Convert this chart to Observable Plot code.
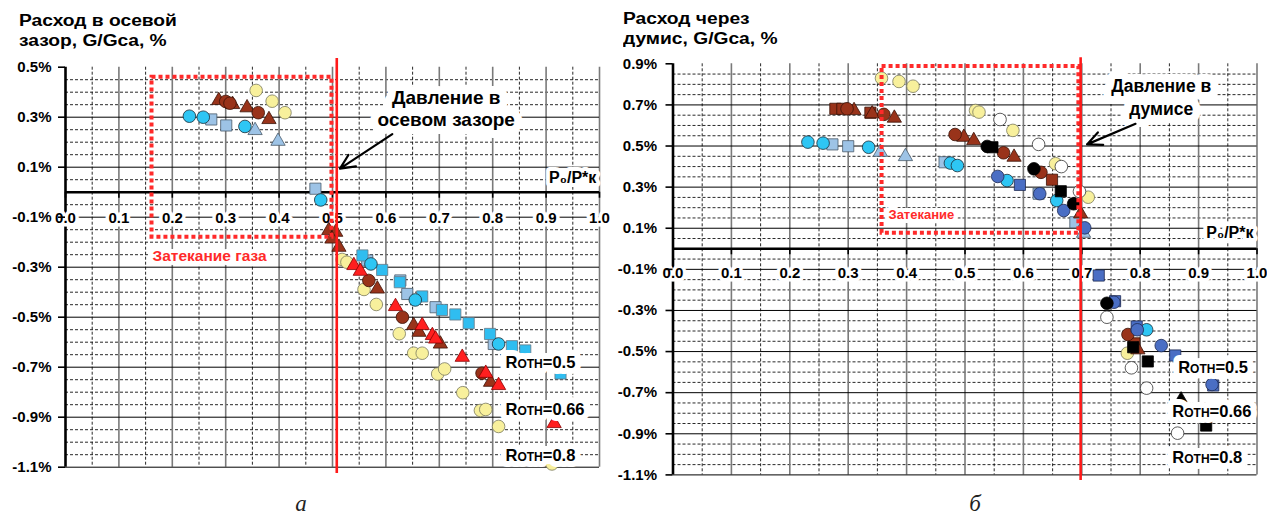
<!DOCTYPE html>
<html><head><meta charset="utf-8">
<script src="https://cdn.jsdelivr.net/npm/d3@7"></script>
<script src="https://cdn.jsdelivr.net/npm/@observablehq/plot@0.6"></script>
<style>
body{margin:0;background:#fff;}
#wrap{position:relative;width:1267px;height:517px;overflow:hidden;font-family:"Liberation Sans",Arial,sans-serif;background:#fff;}
.panel{position:absolute;top:0;}
.title{position:absolute;font-weight:bold;font-size:16px;line-height:20px;color:#000;white-space:nowrap;transform:scaleX(1.2);transform-origin:0 0;}
.cap{position:absolute;font-family:"Liberation Serif","DejaVu Serif",serif;font-style:italic;font-size:23px;line-height:24px;width:30px;text-align:center;color:#222;}
</style></head>
<body>
<div id="wrap">
  <div class="title" style="left:19px;top:11px;">Расход в осевой<br>зазор, G/Gca, %</div>
  <div class="title" style="left:623px;top:9px;">Расход через<br>думис, G/Gca, %</div>
  <div class="cap" style="left:286px;top:492px;">а</div>
  <div class="cap" style="left:960px;top:492px;">б</div>
  <div id="pa" class="panel" style="left:0px;width:640px;"></div>
  <div id="pb" class="panel" style="left:590px;width:677px;"></div>
</div>
<script>
// ---------- ticks ----------
const xTicks = [0.0,0.1,0.2,0.3,0.4,0.5,0.6,0.7,0.8,0.9,1.0];
const xMinor = [0.05,0.15,0.25,0.35,0.45,0.55,0.65,0.75,0.85,0.95];
const aYTicks = [0.5,0.3,0.1,-0.1,-0.3,-0.5,-0.7,-0.9,-1.1];
const bYTicks = [0.9,0.7,0.5,0.3,0.1,-0.1,-0.3,-0.5,-0.7,-0.9,-1.1];
const rothLabels = ["Rотн=0.5","Rотн=0.66","Rотн=0.8"];

// ---------- panel а data: [P0/P*к, G/Gca %] ----------
const aYellowCircles = [[0.357,0.407],[0.387,0.364],[0.411,0.318],[0.518,-0.269],[0.527,-0.28],[0.559,-0.389],[0.582,-0.449],[0.625,-0.566],[0.652,-0.644],[0.668,-0.644],[0.697,-0.727],[0.710,-0.707],[0.744,-0.802],[0.777,-0.873],[0.787,-0.869],[0.811,-0.937],[0.911,-1.087]];
const aLbSquares = [[0.273,0.291],[0.301,0.267],[0.468,0.014],[0.565,-0.273],[0.627,-0.353],[0.640,-0.407],[0.693,-0.46],[0.802,-0.607]];
const aCySquares = [[0.556,-0.253],[0.593,-0.311],[0.626,-0.36],[0.668,-0.417],[0.705,-0.471],[0.730,-0.489],[0.755,-0.524],[0.795,-0.567],[0.836,-0.616],[0.861,-0.633],[0.927,-0.725]];
const aCyanCircles = [[0.232,0.304],[0.258,0.30],[0.336,0.263],[0.478,-0.031],[0.572,-0.287],[0.655,-0.431],[0.811,-0.607]];
const aLbTriangles = [[0.355,0.247],[0.398,0.204]];
const aBrTriangles = [[0.287,0.367],[0.313,0.351],[0.340,0.338],[0.381,0.291],[0.493,-0.153],[0.506,-0.16],[0.499,-0.187],[0.512,-0.22],[0.584,-0.387],[0.652,-0.533],[0.662,-0.56],[0.702,-0.607],[0.796,-0.76]];
const aBrCircles = [[0.300,0.363],[0.308,0.356],[0.361,0.318],[0.568,-0.353],[0.631,-0.50],[0.780,-0.724]];
const aRedTriangles = [[0.540,-0.293],[0.552,-0.316],[0.618,-0.457],[0.668,-0.533],[0.687,-0.573],[0.693,-0.587],[0.743,-0.66],[0.787,-0.724],[0.811,-0.773],[0.915,-0.925]];

// ---------- panel б data ----------
const bYellowCircles = [[0.357,0.83],[0.387,0.814],[0.411,0.791],[0.518,0.673],[0.524,0.665],[0.582,0.576],[0.655,0.414],[0.711,0.251],[0.778,-0.508]];
const bWhiteCircles = [[0.560,0.629],[0.626,0.508],[0.665,0.40],[0.696,0.279],[0.743,-0.333],[0.785,-0.579],[0.811,-0.678],[0.864,-0.897]];
const bLbSquares = [[0.273,0.508],[0.300,0.499],[0.465,0.421],[0.626,0.268],[0.689,0.129]];
const bCyanCircles = [[0.231,0.519],[0.257,0.514],[0.335,0.494],[0.475,0.417],[0.487,0.405],[0.572,0.332],[0.657,0.235],[0.811,-0.394]];
const bLbTriangles = [[0.355,0.47],[0.398,0.449],[0.703,0.076]];
const bBrSquares = [[0.278,0.681],[0.290,0.681],[0.338,0.662],[0.649,0.336],[0.790,-0.46]];
const bBrTriangles = [[0.310,0.673],[0.341,0.657],[0.379,0.636],[0.498,0.543],[0.515,0.527],[0.584,0.446],[0.698,0.17],[0.796,-0.491]];
const bBrCircles = [[0.298,0.681],[0.361,0.654],[0.483,0.556],[0.566,0.467],[0.630,0.372],[0.779,-0.417]];
const bDbSquares = [[0.594,0.311],[0.729,-0.13],[0.757,-0.255],[0.794,-0.378],[0.860,-0.519],[0.925,-0.665]];
const bDbCircles = [[0.556,0.352],[0.628,0.268],[0.669,0.186],[0.705,0.102],[0.755,-0.26],[0.795,-0.394],[0.836,-0.471],[0.923,-0.66]];
const bBlackSquares = [[0.547,0.494],[0.664,0.28],[0.788,-0.479],[0.813,-0.548],[0.913,-0.86]];
const bBlackCircles = [[0.538,0.498],[0.618,0.389],[0.686,0.219],[0.743,-0.265]];
const bBlackTriangles = [[0.870,-0.735]];

// ---------- styles ----------
const ST = {
  yellowCircle:{symbol:"circle",r:6.3,fill:"#f8f09c",stroke:"#7a7a60"},
  whiteCircle:{symbol:"circle",r:6.3,fill:"#ffffff",stroke:"#333"},
  lbSquare:{symbol:"square",r:6.3,fill:"#9dc3e6",stroke:"#4a5a6a"},
  cySquare:{symbol:"square",r:6.3,fill:"#2fbdf0",stroke:"#6a7a86"},
  cyanCircle:{symbol:"circle",r:6.3,fill:"#2ec6f4",stroke:"#1c2c36"},
  lbTriangle:{symbol:"triangle",r:5.3,fill:"#9dc3e6",stroke:"#4a5a6a"},
  brTriangle:{symbol:"triangle",r:5.3,fill:"#99331a",stroke:"#3a1206"},
  brCircle:{symbol:"circle",r:6.3,fill:"#99331a",stroke:"#3a1206"},
  brSquare:{symbol:"square",r:6.3,fill:"#99331a",stroke:"#3a1206"},
  redTriangle:{symbol:"triangle",r:5.3,fill:"#ff1f1f",stroke:"#8a0000"},
  dbSquare:{symbol:"square",r:6.3,fill:"#4a6ec4",stroke:"#1e2a50"},
  dbCircle:{symbol:"circle",r:6.3,fill:"#4a6ec4",stroke:"#1e2a50"},
  blackSquare:{symbol:"square",r:6.3,fill:"#000",stroke:"#000"},
  blackCircle:{symbol:"circle",r:6.3,fill:"#000",stroke:"#000"},
  blackTriangle:{symbol:"triangle",r:5.3,fill:"#000",stroke:"#000"}
};

const FONT = '"Liberation Sans", Arial, sans-serif';
const halo = (w) => ({stroke:"#fff", strokeWidth:w, paintOrder:"stroke", strokeLinejoin:"round"});

function drawPanel(cfg) {
  const H = 517;
  const plotH = H - cfg.mt - cfg.mb;
  const pxPerUnit = plotH / (cfg.yDomain[1] - cfg.yDomain[0]);
  const tickLen = 6 / pxPerUnit;
  const lo = Math.round(cfg.yDomain[0]*20), hi = Math.round(cfg.yDomain[1]*20);
  const minor = d3.range(lo, hi+1).map(i => i/20).filter(v => {
    const t = Math.round(v*20);
    return t !== 0 && !(t % 2 === 0 && Math.abs(t/2) % 2 === 1);
  });
  const majors = cfg.yTicks.filter(v => v < cfg.yDomain[1] - 1e-9);
  const dots = cfg.series.map(([data, st]) => Plot.dot(data, {x: d => d[0], y: d => d[1], ...ST[st], strokeWidth: 0.8}));
  return Plot.plot({
    width: cfg.width, height: H,
    marginLeft: cfg.ml, marginRight: cfg.mr, marginTop: cfg.mt, marginBottom: cfg.mb,
    x: {domain: [0, 1], axis: null},
    y: {domain: cfg.yDomain},
    style: {fontFamily: FONT, background: "transparent", overflow: "visible", color: "#000"},
    marks: [
      Plot.ruleY(minor, {stroke: "#111", strokeWidth: 0.9, strokeDasharray: "3,2"}),
      Plot.ruleX(xMinor, {stroke: "#111", strokeWidth: 0.9, strokeDasharray: "3,2"}),
      Plot.ruleX(xTicks.slice(1), {stroke: "#7a7a7a", strokeWidth: 1.6}),
      Plot.ruleY(majors, {stroke: "#000", strokeWidth: 1}),
      Plot.ruleY([0], {stroke: "#000", strokeWidth: 2.6}),
      Plot.ruleX(xTicks, {x: d => d, y1: 0, y2: -tickLen, stroke: "#000", strokeWidth: 1.6}),
      Plot.ruleX([0], {stroke: "#000", strokeWidth: 2.6}),
      Plot.text(xTicks, {x: d => d, y: -0.1, dy: cfg.labelDy, text: d => d.toFixed(1), fontSize: 15, fontWeight: "bold", fill: "#000", ...halo(7)}),
      Plot.axisY(cfg.yTicks, {anchor: "left", tickSize: 7, tickPadding: cfg.tickPad, tickFormat: d => d.toFixed(1) + "%", fontSize: 15, fontWeight: "bold", label: null, stroke: "#000", strokeWidth: 1.6, fill: "#000"}),
      ...dots,
      Plot.rect([cfg.rect], {x1: d => d.x1, x2: d => d.x2, y1: d => d.y1, y2: d => d.y2, fill: "none", stroke: "#ff2a2a", strokeWidth: 4, strokeDasharray: "4,3"}),
      Plot.ruleX([cfg.redLine], {x: d => d.x, y1: d => d.y1, y2: d => d.y2, stroke: "#ff1a1a", strokeWidth: 2.6}),
      Plot.text([cfg.pressure], {x: d => d.x, y: d => d.y, text: d => d.text, fontSize: cfg.pressure.fs, fontWeight: "bold", lineHeight: cfg.pressure.lh, textAnchor: "middle", fill: "#000", ...halo(16)}),
      Plot.arrow([cfg.arrow], {x1: d => d.x1, y1: d => d.y1, x2: d => d.x2, y2: d => d.y2, stroke: "#000", strokeWidth: 2.2, headLength: 11, headAngle: 50}),
      Plot.text([cfg.leak], {x: d => d.x, y: d => d.y, text: d => d.text, fontSize: cfg.leak.fs, fontWeight: "bold", fill: "#ff2a2a", textAnchor: "start", ...halo(8)}),
      Plot.text([cfg.axisName], {x: d => d.x, y: d => d.y, text: d => d.text, fontSize: 16, fontWeight: "bold", fill: "#000", textAnchor: "end", ...halo(8)}),
      Plot.text(cfg.roth, {x: d => d.x, y: d => d.y, text: d => d.text, fontSize: 16.5, fontWeight: "bold", fontVariant: "small-caps", fill: "#000", textAnchor: "start", ...halo(12)})
    ]
  });
}

const pa = drawPanel({
  width: 640, ml: 65, mr: 41, mt: 66.7, mb: 50.3, yDomain: [-1.1, 0.5], yTicks: aYTicks, labelDy: 1, tickPad: 7,
  series: [[aYellowCircles,"yellowCircle"],[aLbSquares,"lbSquare"],[aCySquares,"cySquare"],[aCyanCircles,"cyanCircle"],[aLbTriangles,"lbTriangle"],[aBrTriangles,"brTriangle"],[aBrCircles,"brCircle"],[aRedTriangles,"redTriangle"]],
  rect: {x1: 0.162, x2: 0.499, y1: -0.18, y2: 0.46},
  redLine: {x: 0.508, y1: 0.535, y2: -1.125},
  pressure: {x: 0.713, y: 0.337, text: "Давление в\nосевом зазоре", lh: 1.15, fs: 19},
  arrow: {x1: 0.612, y1: 0.232, x2: 0.514, y2: 0.094},
  leak: {x: 0.163, y: -0.257, text: "Затекание газа", fs: 15.5},
  axisName: {x: 0.994, y: 0.059, text: "P₀/P*к"},
  roth: [{x: 0.824, y: -0.684, text: rothLabels[0]},{x: 0.824, y: -0.87, text: rothLabels[1]},{x: 0.824, y: -1.053, text: rothLabels[2]}]
});
document.getElementById("pa").appendChild(pa);

const pb = drawPanel({
  width: 677, ml: 82.5, mr: 10.5, mt: 63.3, mb: 42.6, yDomain: [-1.1, 0.9], yTicks: bYTicks, labelDy: 4, tickPad: 9,
  series: [[bYellowCircles,"yellowCircle"],[bWhiteCircles,"whiteCircle"],[bLbSquares,"lbSquare"],[bCyanCircles,"cyanCircle"],[bLbTriangles,"lbTriangle"],[bBrSquares,"brSquare"],[bBrTriangles,"brTriangle"],[bBrCircles,"brCircle"],[bDbSquares,"dbSquare"],[bDbCircles,"dbCircle"],[bBlackSquares,"blackSquare"],[bBlackCircles,"blackCircle"],[bBlackTriangles,"blackTriangle"]],
  rect: {x1: 0.358, x2: 0.695, y1: 0.076, y2: 0.887},
  redLine: {x: 0.698, y1: 0.93, y2: -1.127},
  pressure: {x: 0.836, y: 0.741, text: "Давление в\nдумисе", lh: 1.3, fs: 17.5},
  arrow: {x1: 0.792, y1: 0.608, x2: 0.709, y2: 0.508},
  leak: {x: 0.369, y: 0.167, text: "Затекание", fs: 13},
  axisName: {x: 0.994, y: 0.076, text: "P₀/P*к"},
  roth: [{x: 0.865, y: -0.579, text: rothLabels[0]},{x: 0.855, y: -0.795, text: rothLabels[1]},{x: 0.855, y: -1.014, text: rothLabels[2]}]
});
document.getElementById("pb").appendChild(pb);
</script>
</body></html>
